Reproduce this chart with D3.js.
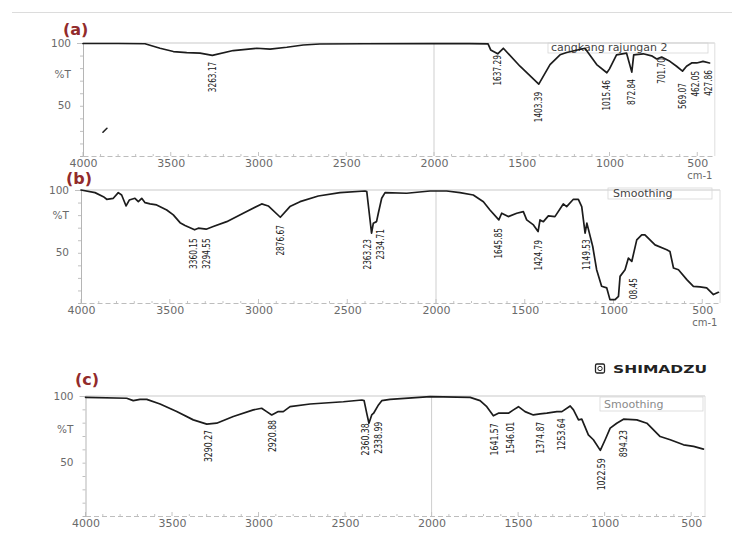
<!DOCTYPE html>
<html>
<head>
<meta charset="utf-8">
<script src="https://cdn.jsdelivr.net/npm/d3@7"></script>
<style>
  body { margin: 0; background: #fff; }
  svg { display: block; }
</style>
</head>
<body>
<div id="chart"></div>
<script>
// FTIR SPECTRA (a) (b) (c)

const width = 732,
  height = 534;

// x axis ticks (cm-1) and %T ticks
const xTicks = [4000, 3500, 3000, 2500, 2000, 1500, 1000, 500];
const yTicks = [100, 90, 80, 70, 60, 50, 40, 30, 20];

// (a) cangkang rajungan 2
const aWave = [4000, 3800, 3647, 3561, 3485, 3409, 3333, 3263, 3144, 3010, 2934, 2839, 2745, 2650, 2400, 2000, 1800, 1692,
  1677, 1637, 1605, 1510, 1403, 1339, 1282, 1244, 1140, 1073, 1015, 1000, 960, 903, 873, 862, 808, 760, 731, 703, 656,
  618, 584, 561, 532, 503, 467, 430];
const aTrans = [99.6, 99.6, 99.4, 95.8, 93.2, 92.4, 91.9, 90.1, 94, 95.8, 95.1, 96.6, 98.4, 99.2, 99.4, 99.5, 99.5, 99.3,
  94.5, 91.4, 95.8, 81.5, 67.2, 82.8, 90.6, 92.4, 95.8, 82.8, 76.3, 79.4, 90.6, 92, 76.8, 90.6, 91.4, 89.8, 87.3, 88.8, 85.4,
  81.5, 77.6, 81.5, 84.1, 84.1, 85.4, 84.1];
const aPeakText = ["3263.17", "1637.29", "1403.39", "1015.46", "872.84", "701.70", "569.07", "462.05", "427.86"];
const aPeakWave = [3263.17, 1637.29, 1403.39, 1015.46, 872.84, 701.70, 569.07, 462.05, 427.86];
const aPeakTop = [85.1, 90.4, 61.2, 70.5, 71.3, 88.1, 68.1, 77.9, 78.5];

// (b) Smoothing
const bWave = [4000, 3921, 3874, 3855, 3818, 3790, 3771, 3746, 3728, 3696, 3677, 3658, 3639, 3611, 3574, 3517, 3480, 3442,
  3414, 3360, 3339, 3295, 3255, 3179, 3086, 2982, 2945, 2877, 2823, 2766, 2663, 2541, 2400, 2390, 2376, 2363, 2353, 2335,
  2325, 2306, 2287, 2165, 2034, 1940, 1865, 1790, 1733, 1696, 1646, 1630, 1593, 1545, 1508, 1489, 1451, 1425, 1414, 1395,
  1367, 1330, 1283, 1264, 1226, 1198, 1179, 1160, 1150, 1117, 1095, 1067, 1038, 1020, 991, 972, 963, 935, 916, 897, 869,
  841, 823, 766, 700, 682, 662, 634, 587, 550, 513, 475, 437, 409];
const bTrans = [100, 97.9, 94.7, 92.6, 93.4, 97.9, 96, 87.3, 92, 93.4, 90.7, 93.4, 89.9, 88.9, 88.1, 84.1, 80.2, 74,
  71.7, 68.3, 69.6, 68.8, 70.9, 74.8, 81.5, 88.9, 87.3, 78.3, 86.8, 90.7, 95.2, 97.9, 99.2, 98.7, 81.5, 65.6, 73.6, 74.8,
  81.5, 93.4, 97.9, 97.4, 99.2, 99.2, 97.9, 96, 90.7, 84.1, 76.2, 81.5, 78.8, 81.5, 82.8, 76.2, 72.2, 66.9, 76.2, 74.8,
  79.4, 78.8, 88.9, 86.8, 92.6, 92.6, 86.8, 65.6, 73.6, 55, 36.5, 23.3, 22, 12.7, 12.7, 15.3, 31.2, 36.5, 45.8, 43.1, 60.3,
  64.3, 64.3, 56.3, 52.4, 51, 37.9, 36.5, 28.6, 23.3, 22.8, 22, 16.7, 18.5];
const bPeakText = ["3360.15", "3294.55", "2876.67", "2363.23", "2334.71", "1645.85", "1424.79", "1149.53", "08.45"];
const bPeakWave = [3360.15, 3294.55, 2876.67, 2363.23, 2334.71, 1645.85, 1424.79, 1149.53, 888];
const bPeakTop = [61.5, 61.5, 72.1, 61, 68.9, 69.7, 60.2, 60.7, 29.9];

// (c) Smoothing
const cWave = [4000, 3762, 3724, 3685, 3646, 3569, 3473, 3377, 3299, 3242, 3146, 3030, 2982, 2953, 2924, 2886, 2857, 2818,
  2702, 2510, 2403, 2390, 2375, 2362, 2346, 2335, 2307, 2288, 2240, 2009, 1777, 1720, 1681, 1643, 1614, 1556, 1527, 1498,
  1460, 1412, 1373, 1334, 1276, 1247, 1199, 1180, 1151, 1132, 1094, 1065, 1025, 997, 968, 930, 891, 814, 756, 679, 621,
  544, 486, 429];
const cTrans = [99, 98.3, 96.5, 97.5, 97.5, 94, 88.3, 82.1, 78.9, 79.6, 84.6, 89.6, 90.8, 88.3, 85.8, 88.3, 88.3, 92,
  94, 95.7, 97, 96.5, 87.1, 79.6, 85.8, 87.1, 93.3, 96.5, 97.5, 99.5, 99, 96.5, 92, 85.1, 87.1, 87.1, 89.6, 92,
  88.3, 85.8, 86.6, 87.1, 88.3, 88.3, 92.5, 89.6, 82.1, 82.6, 70.9, 67.2, 59.2, 67.2, 75.9, 79.6, 82.6, 82.1, 79.6, 69.6, 67.2,
  63.4, 62.2, 60.2];
const cPeakText = ["3290.27", "2920.88", "2360.38", "2338.99", "1641.57", "1546.01", "1374.87", "1253.64", "1022.59", "894.23"];
const cPeakWave = [3290.27, 2920.88, 2360.38, 2338.99, 1641.57, 1546.01, 1374.87, 1253.64, 1022.59, 894.23];
const cPeakTop = [74.5, 82, 79.5, 80.7, 79.5, 80.7, 80.7, 83.3, 53.3, 74.5];

// stray ink mark on the scan of (a)
const speckWave = [3875];
const speckTrans = [30.5];


const svg = d3.select("#chart")
  .append("svg")
  .attr("width", width)
  .attr("height", height)
  .attr("viewBox", `0 0 ${width} ${height}`);

// page edge line on top
svg.append("line")
  .attr("x1", 12).attr("x2", width)
  .attr("y1", 12.5).attr("y2", 12.5)
  .attr("stroke", "#dcdcdc");

const panels = [
  { tag: "(a)", tagX: 63, tagY: 34.5, wave: aWave, trans: aTrans,
    pText: aPeakText, pWave: aPeakWave, pTop: aPeakTop,
    dom: [4000, 400], x0: 83, x1: 714.8, yTop: 43, yBot: 156, pctT: 75, fs: 10,
    note: "cangkang rajungan 2", noteX: 551, noteY: 51, box: [548, 708, 43, 53], noteColor: "#444", cm: true },
  { tag: "(b)", tagX: 66, tagY: 184, wave: bWave, trans: bTrans,
    pText: bPeakText, pWave: bPeakWave, pTop: bPeakTop,
    dom: [4000, 400], x0: 81, x1: 720, yTop: 190, yBot: 303, pctT: 80, fs: 10,
    note: "Smoothing", noteX: 613, noteY: 197, box: [608, 712, 188, 199], noteColor: "#444", cm: true },
  { tag: "(c)", tagX: 75, tagY: 385, wave: cWave, trans: cTrans,
    pText: cPeakText, pWave: cPeakWave, pTop: cPeakTop,
    dom: [4000, 420], x0: 85.5, x1: 705, yTop: 396, yBot: 516, pctT: 75, fs: 10.5,
    note: "Smoothing", noteX: 604, noteY: 408, box: [600, 703, 397, 411], noteColor: "#8a8a8a", cm: false }
];

panels.forEach(drawPanel);

function drawPanel(p, i) {

  const xScale = d3.scaleLinear().domain(p.dom).range([p.x0, p.x1]);
  const yScale = d3.scaleLinear().domain([10, 100]).range([p.yBot, p.yTop]);

  const g = svg.append("g").attr("class", "panel");

  // frame: top line, right line, 2000 grid line
  g.append("line")
    .attr("x1", p.x0).attr("x2", p.x1)
    .attr("y1", yScale(100)).attr("y2", yScale(100))
    .attr("stroke", "#c9c9c9");
  g.append("line")
    .attr("x1", p.x1).attr("x2", p.x1)
    .attr("y1", yScale(100)).attr("y2", yScale(10))
    .attr("stroke", "#dedede");
  g.append("line")
    .attr("x1", xScale(2000)).attr("x2", xScale(2000))
    .attr("y1", yScale(100)).attr("y2", yScale(10))
    .attr("stroke", "#cfcfcf");

  // bottom axis
  const xAxis = d3.axisBottom(xScale)
    .tickValues(xTicks)
    .tickSize(0)
    .tickPadding(3)
    .tickFormat(d3.format("d"));

  const gx = g.append("g")
    .attr("transform", `translate(0,${p.yBot})`)
    .call(xAxis);
  gx.select(".domain")
    .attr("stroke", "#bdbdbd")
    .attr("stroke-dasharray", "5,3");
  gx.selectAll("text")
    .attr("fill", "#6a6a6a")
    .style("font-family", "DejaVu Sans, sans-serif")
    .style("font-size", "11px");

  // small ticks along bottom
  g.selectAll(".xminor")
    .data(d3.range(4000, p.dom[1], -100))
    .enter()
    .append("line")
    .attr("x1", d => xScale(d)).attr("x2", d => xScale(d))
    .attr("y1", p.yBot).attr("y2", d => p.yBot - (d % 500 === 0 ? 4 : 2))
    .attr("stroke", "#c4c4c4");

  // left axis
  const yAxis = d3.axisLeft(yScale)
    .tickValues(yTicks)
    .tickSize(3)
    .tickFormat("");
  const gy = g.append("g")
    .attr("transform", `translate(${p.x0},0)`)
    .call(yAxis);
  gy.select(".domain").attr("stroke", "#b5b5b5");
  gy.selectAll(".tick line").attr("stroke", "#c0c0c0")
    .attr("x2", d => d === 100 ? -6 : -3);

  const yLabels = [[100, "100"], [p.pctT, "%T"], [50, "50"]];
  g.selectAll(".ylab")
    .data(yLabels)
    .enter()
    .append("text")
    .attr("x", p.x0 - 12)
    .attr("y", d => yScale(d[0]))
    .attr("dy", "0.35em")
    .attr("text-anchor", "end")
    .attr("fill", "#6a6a6a")
    .style("font-family", "DejaVu Sans, sans-serif")
    .style("font-size", "10.5px")
    .text(d => d[1]);

  if (p.cm) {
    g.append("text")
      .attr("x", xScale(500) - 10)
      .attr("y", p.yBot + 23)
      .attr("fill", "#6a6a6a")
      .style("font-family", "DejaVu Sans, sans-serif")
      .style("font-size", "10px")
      .text("cm-1");
  }

  // note box
  g.append("rect")
    .attr("x", p.box[0]).attr("y", p.box[2])
    .attr("width", p.box[1] - p.box[0])
    .attr("height", p.box[3] - p.box[2])
    .attr("fill", "none")
    .attr("stroke", "#d6d6d6")
    .attr("stroke-width", 0.8);
  g.append("text")
    .attr("x", p.noteX).attr("y", p.noteY)
    .attr("fill", p.noteColor)
    .style("font-family", "DejaVu Sans, sans-serif")
    .style("font-size", "11px")
    .text(p.note);

  // spectrum
  const pts = p.wave.map((w, k) => [w, p.trans[k]]);
  const specLine = d3.line()
    .x(d => xScale(d[0]))
    .y(d => yScale(d[1]));

  g.append("path")
    .datum(pts)
    .attr("d", specLine)
    .attr("fill", "none")
    .attr("stroke", "#1c1c1c")
    .attr("stroke-width", 1.7)
    .attr("stroke-linejoin", "round")
    .attr("stroke-linecap", "round");

  // peak labels, pushed apart a little when they crowd
  const labs = p.pText.map((t, k) => ({ t: t, x: xScale(p.pWave[k]), y: yScale(p.pTop[k]) }));
  for (let it = 0; it < 60; it++) {
    for (let k = 1; k < labs.length; k++) {
      const gap = labs[k].x - labs[k - 1].x;
      if (gap < 13) {
        const m = (13 - gap) / 2;
        labs[k].x += m;
        labs[k - 1].x -= m;
      }
    }
    labs.forEach(l => { l.x = Math.min(l.x, p.x1 - 6); });
  }

  // condensed look of the instrument print
  g.selectAll(".peak")
    .data(labs)
    .enter()
    .append("text")
    .attr("class", "peak")
    .attr("transform", d => `translate(${d.x},${d.y}) rotate(-90) scale(0.74,1)`)
    .attr("text-anchor", "end")
    .attr("dominant-baseline", "central")
    .attr("fill", "#222")
    .style("font-family", "DejaVu Sans, sans-serif")
    .style("font-size", p.fs + "px")
    .text(d => d.t);

  // panel tag
  g.append("text")
    .attr("x", p.tagX).attr("y", p.tagY)
    .attr("fill", "#922b2b")
    .style("font-family", "DejaVu Sans, sans-serif")
    .style("font-weight", "bold")
    .style("font-size", "16px")
    .text(p.tag);

  if (i === 0) {
    speckWave.forEach((w, k) => {
      g.append("line")
        .attr("x1", xScale(w) - 2).attr("y1", yScale(speckTrans[k]) + 2)
        .attr("x2", xScale(w) + 2).attr("y2", yScale(speckTrans[k]) - 2)
        .attr("stroke", "#222")
        .attr("stroke-width", 1.6)
        .attr("stroke-linecap", "round");
    });
  }
}

// SHIMADZU logo
const logo = svg.append("g");
logo.append("rect")
  .attr("x", 595.5).attr("y", 364).attr("width", 9).attr("height", 9)
  .attr("rx", 1.5)
  .attr("fill", "none")
  .attr("stroke", "#222")
  .attr("stroke-width", 1.3);
logo.append("circle")
  .attr("cx", 600).attr("cy", 368.5).attr("r", 2.2)
  .attr("fill", "none")
  .attr("stroke", "#222")
  .attr("stroke-width", 1);
logo.append("text")
  .attr("x", 613).attr("y", 372.5)
  .attr("textLength", 94)
  .attr("lengthAdjust", "spacingAndGlyphs")
  .attr("fill", "#222")
  .style("font-family", "DejaVu Sans, sans-serif")
  .style("font-weight", "bold")
  .style("font-size", "11px")
  .text("SHIMADZU");

</script>
</body>
</html>
